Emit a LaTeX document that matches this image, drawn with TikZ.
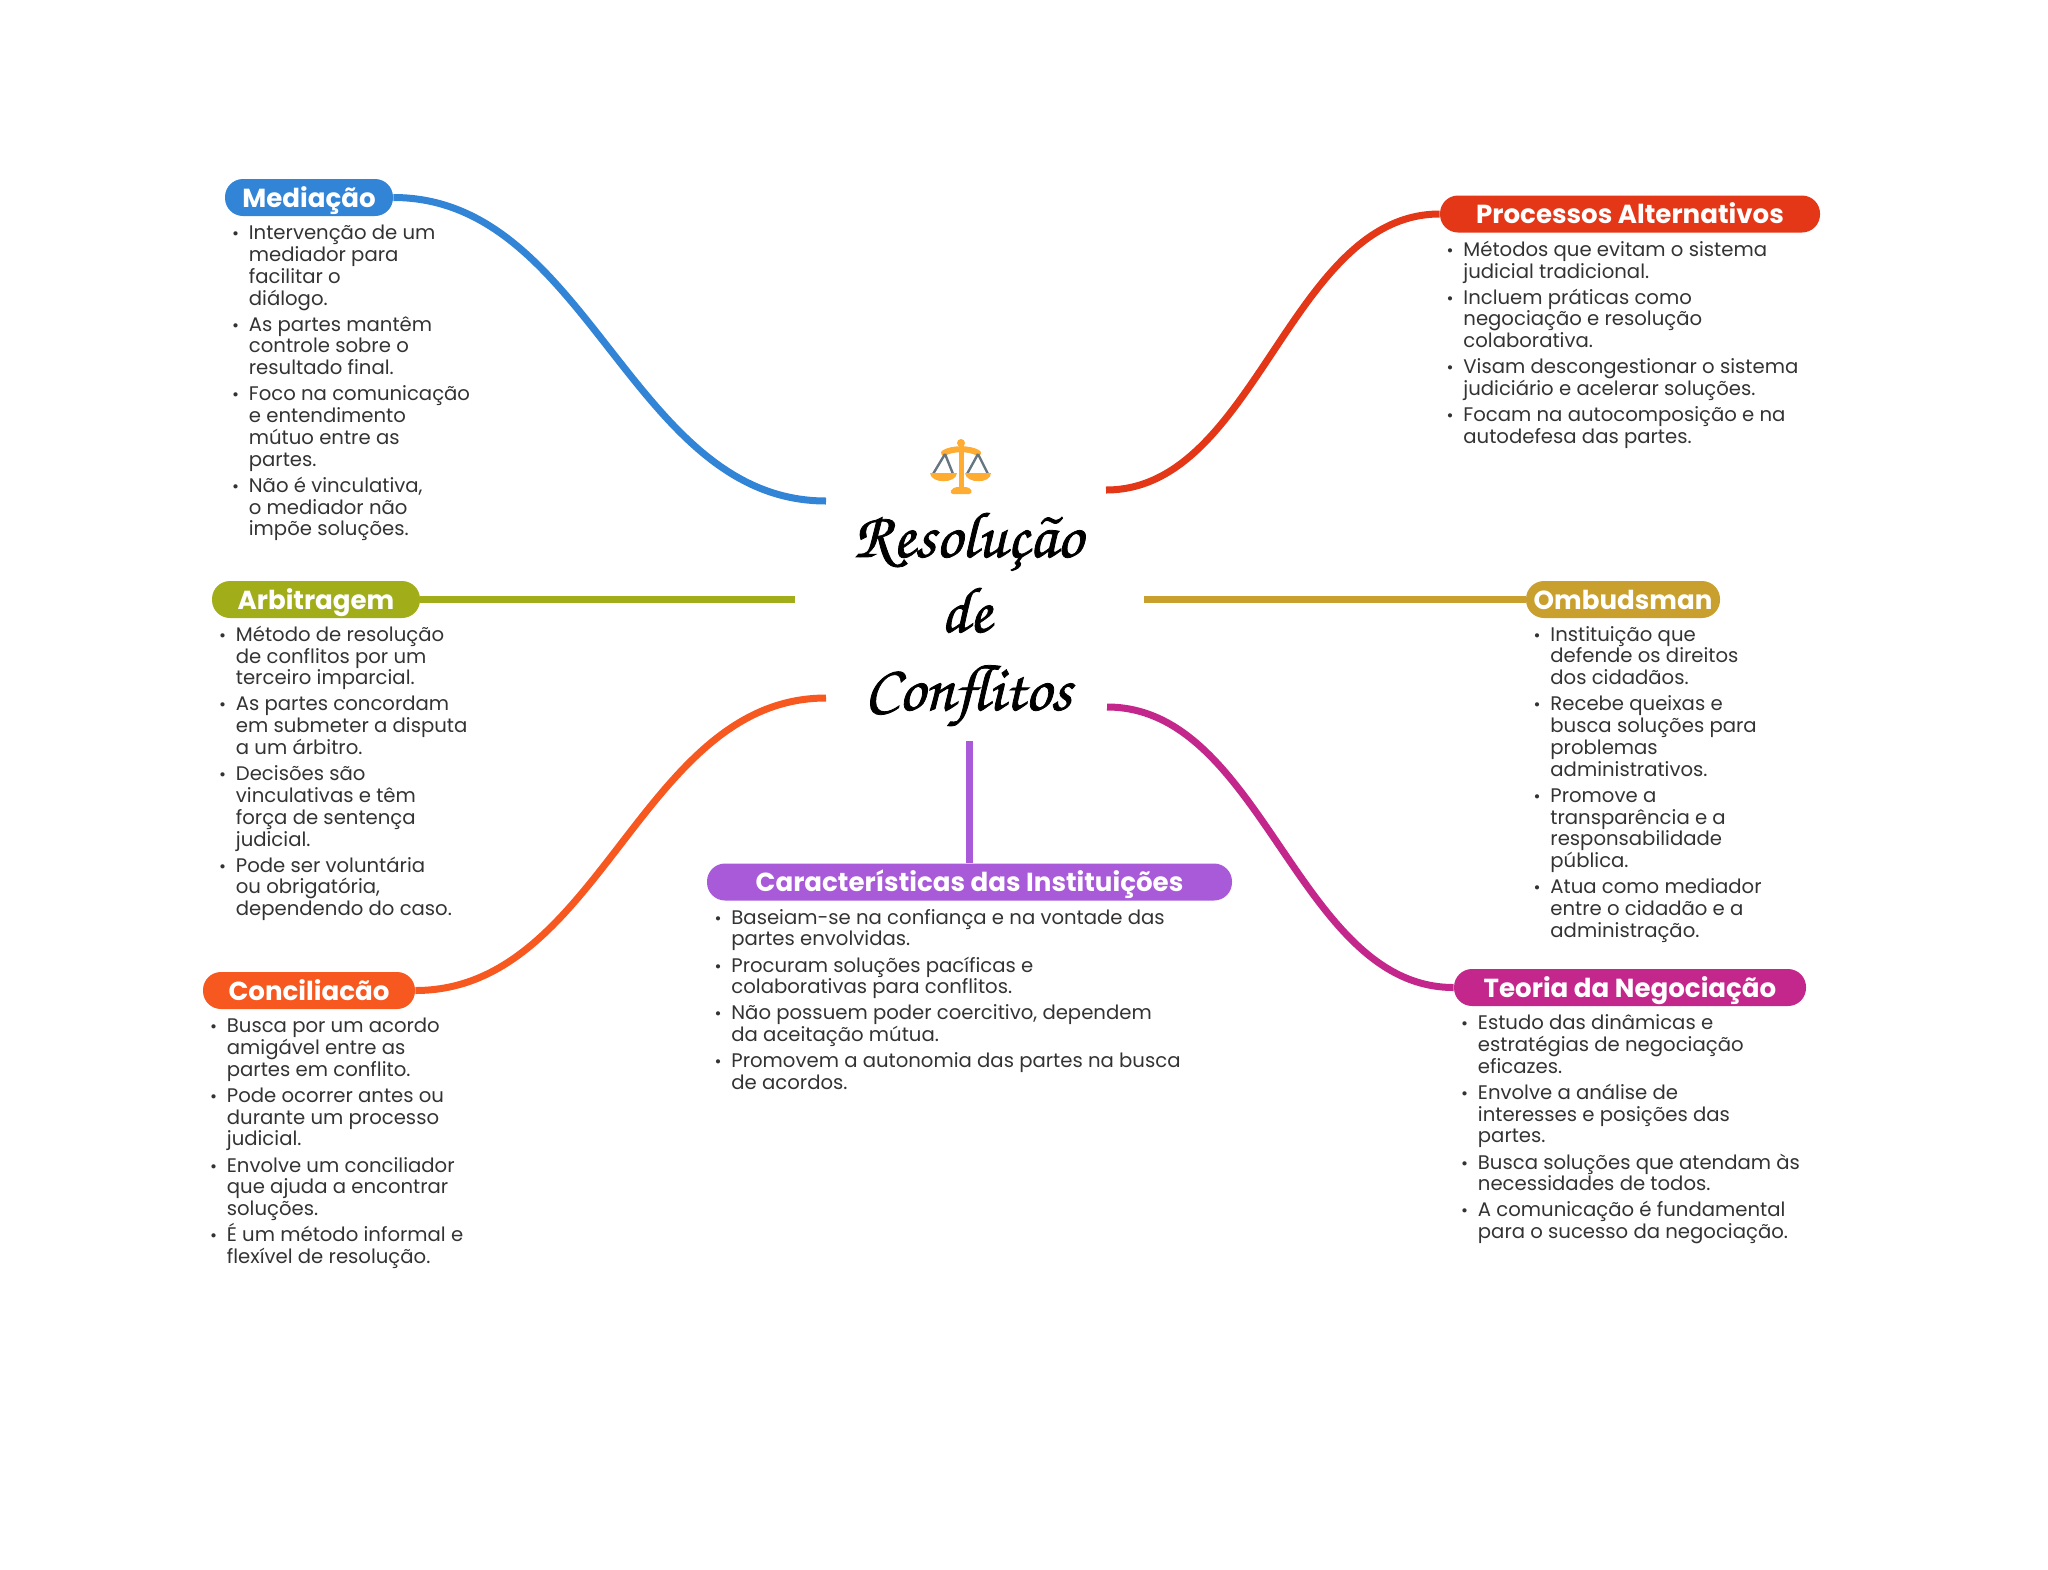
\documentclass[tikz,border=0pt]{standalone}
\usepackage{fontspec}
\setmainfont{Poppins}
\newfontfamily\titlefont[FakeBold=1.2]{TeX Gyre Chorus}
\usetikzlibrary{positioning}
\definecolor{medblue}{HTML}{3284D6}
\definecolor{procred}{HTML}{E33717}
\definecolor{arbgreen}{HTML}{A2AD1A}
\definecolor{ombgold}{HTML}{C9A02E}
\definecolor{conorange}{HTML}{F7581F}
\definecolor{teomag}{HTML}{C4278B}
\definecolor{carpurple}{HTML}{A85AD8}
\definecolor{notegray}{HTML}{333333}
\definecolor{scaleamber}{HTML}{FFAC33}
\definecolor{scalegray}{HTML}{66757F}
\newcommand{\itm}{\strut\llap{{\fontsize{8.5}{8.5}\selectfont\textbullet}\hspace{4.9pt}}}
\newcommand{\gap}{\\[2.15pt]}
\newcommand{\notefont}{\fontsize{9.83}{10.9}\selectfont\setlength{\lineskiplimit}{-20pt}}
\tikzset{
    pill/.style={fill=#1,text=white,rounded corners=9pt,inner sep=0pt,minimum height=18.5pt,
        text height=11pt,text depth=1.5pt,
        font=\fontsize{13.05}{14}\selectfont\bfseries,anchor=center},
    branch/.style={line width=3.5pt,#1},
    notes/.style={anchor=north west,align=left,inner sep=0pt,text=notegray,font=\notefont},
    headline/.style={font=\titlefont\fontsize{32.5}{33}\selectfont,inner sep=0pt,anchor=base}
}
\begin{document}
\begin{tikzpicture}[x=0.5pt,y=-0.5pt]
    \useasboundingbox (0,0) rectangle (2048,1569);
    %% title
    \node[headline] (res) at (968,557) {Resolução};
    \node[headline] (de) at (966,632) {de};
    \node[headline] (conf) at (968,710) {Conflitos};
    %% scales icon
    \fill[scaleamber] (958.5,441) rectangle (964,490);
    \fill[scaleamber] (961,443) circle (4);
    \draw[scaleamber,line width=3pt,line cap=round] (944,453) .. controls (952,448) and (970,448) .. (978,453);
    \draw[scalegray,line width=1.2pt] (945,454) -- (933,474) (945,454) -- (953,474) (978,454) -- (967,474) (978,454) -- (988,474);
    \fill[scaleamber] (930,473) -- (957,473) .. controls (956,484) and (931,484) .. (930,473) -- cycle;
    \fill[scaleamber] (965,473) -- (991,473) .. controls (991,484) and (966,484) .. (965,473) -- cycle;
    \fill[scaleamber,rounded corners=2pt] (949,494) -- (953,487) -- (970,487) -- (973,494) -- cycle;
    %% branch ends near the title
    \coordinate (medend) at (826,501);
    \coordinate (procend) at (1106,490);
    \coordinate (arbend) at (795,599.5);
    \coordinate (ombend) at (1144,599.5);
    \coordinate (conend) at (826,698);
    \coordinate (teoend) at (1107,707);
    \coordinate (carend) at (969,741);
    %% headings
    \node[pill=medblue,minimum width=84pt] (med) at (309,197.5) {Mediação};
    \node[pill=procred,minimum width=190pt] (proc) at (1630,214) {Processos Alternativos};
    \node[pill=arbgreen,minimum width=104pt] (arb) at (316,599.5) {Arbitragem};
    \node[pill=ombgold,minimum width=97pt] (omb) at (1623,599.5) {Ombudsman};
    \node[pill=conorange,minimum width=106pt] (con) at (309,990.5) {Conciliacão};
    \node[pill=teomag,minimum width=176pt] (teo) at (1630,987.5) {Teoria da Negociação};
    \node[pill=carpurple,minimum width=262.5pt] (car) at (969.5,882) {Características das Instituições};
    %% connect
    \draw[branch=medblue] (med.east) .. controls +(195,0) and +(-195,0) .. (medend);
    \draw[branch=procred] (proc.west) .. controls +(-150,0) and +(150,0) .. (procend);
    \draw[branch=arbgreen] (arb.east) -- (arbend);
    \draw[branch=ombgold] (omb.west) -- (ombend);
    \draw[branch=conorange] (con.east) .. controls +(185,0) and +(-185,0) .. (conend);
    \draw[branch=teomag] (teo.west) .. controls +(-156,0) and +(156,0) .. (teoend);
    \draw[branch=carpurple] (car.north -| carend) -- (carend);
    %% lists
    \node[notes] (mednotes) at (248.5,224) {\itm Intervenção de um\\mediador para\\facilitar o\\diálogo.\gap
        \itm As partes mantêm\\controle sobre o\\resultado final.\gap
        \itm Foco na comunicação\\e entendimento\\mútuo entre as\\partes.\gap
        \itm Não é vinculativa,\\o mediador não\\impõe soluções.};
    \node[notes] (procnotes) at (1463,240.5) {\itm Métodos que evitam o sistema\\judicial tradicional.\gap
        \itm Incluem práticas como\\negociação e resolução\\colaborativa.\gap
        \itm Visam descongestionar o sistema\\judiciário e acelerar soluções.\gap
        \itm Focam na autocomposição e na\\autodefesa das partes.};
    \node[notes] (arbnotes) at (235.5,625.5) {\itm Método de resolução\\de conflitos por um\\terceiro imparcial.\gap
        \itm As partes concordam\\em submeter a disputa\\a um árbitro.\gap
        \itm Decisões são\\vinculativas e têm\\força de sentença\\judicial.\gap
        \itm Pode ser voluntária\\ou obrigatória,\\dependendo do caso.};
    \node[notes] (ombnotes) at (1550,625.5) {\itm Instituição que\\defende os direitos\\dos cidadãos.\gap
        \itm Recebe queixas e\\busca soluções para\\problemas\\administrativos.\gap
        \itm Promove a\\transparência e a\\responsabilidade\\pública.\gap
        \itm Atua como mediador\\entre o cidadão e a\\administração.};
    \node[notes] (connotes) at (226.5,1017) {\itm Busca por um acordo\\amigável entre as\\partes em conflito.\gap
        \itm Pode ocorrer antes ou\\durante um processo\\judicial.\gap
        \itm Envolve um conciliador\\que ajuda a encontrar\\soluções.\gap
        \itm É um método informal e\\flexível de resolução.};
    \node[notes] (teonotes) at (1477.5,1014) {\itm Estudo das dinâmicas e\\estratégias de negociação\\eficazes.\gap
        \itm Envolve a análise de\\interesses e posições das\\partes.\gap
        \itm Busca soluções que atendam às\\necessidades de todos.\gap
        \itm A comunicação é fundamental\\para o sucesso da negociação.};
    \node[notes] (carnotes) at (731,908.5) {\itm Baseiam-se na confiança e na vontade das\\partes envolvidas.\gap
        \itm Procuram soluções pacíficas e\\colaborativas para conflitos.\gap
        \itm Não possuem poder coercitivo, dependem\\da aceitação mútua.\gap
        \itm Promovem a autonomia das partes na busca\\de acordos.};
\end{tikzpicture}
\end{document}
